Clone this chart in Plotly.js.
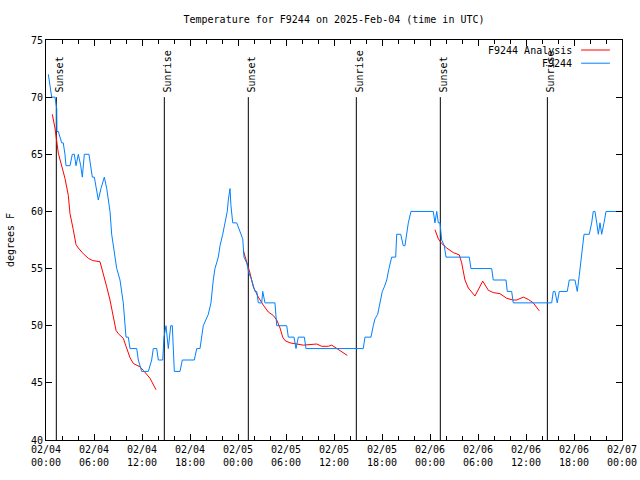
<!DOCTYPE html>
<html>
<head>
<meta charset="utf-8">
<script src="https://cdn.plot.ly/plotly-3.0.1.min.js"></script>
<style>html,body{margin:0;padding:0;background:#fff;}#chart{width:640px;height:480px;}</style>
</head>
<body>
<div id="chart"></div>
<script>
// ---- Data (hours since 2025-02-04 00:00 UTC) ----
const startDate = "2025-02-04 00:00";
const endDate = "2025-02-07 00:00";

const obsName = "F9244";
const obsHours = [0.29,0.5,0.71,1.12,1.34,1.37,1.54,1.96,2.16,2.37,2.5,3.0,3.29,3.54,3.75,4.04,4.34,4.54,4.79,5.37,5.59,5.79,6.04,6.3,6.54,6.87,7.29,7.59,7.79,8.0,8.21,8.41,8.84,9.25,9.66,10.0,10.29,10.5,11.34,11.54,11.96,12.79,13.21,13.41,13.84,14.04,14.59,14.75,15.0,15.29,15.59,15.79,16.0,16.04,16.75,17.04,18.54,18.84,19.25,19.46,19.66,20.29,20.62,20.91,21.12,21.54,21.75,22.09,22.37,22.66,22.79,23.0,23.12,23.34,23.84,24.04,24.34,24.59,24.75,25.09,25.37,25.71,26.12,26.34,26.54,26.96,27.09,27.37,28.62,28.84,30.09,30.29,31.0,31.25,31.54,32.29,32.5,39.66,39.87,40.62,40.91,41.12,41.46,41.75,42.04,42.29,42.59,42.87,43.21,43.71,43.84,44.34,44.66,44.87,45.09,45.29,45.62,48.41,48.62,48.84,49.04,49.25,49.46,49.79,50.0,52.91,53.12,55.71,55.91,57.5,57.66,58.21,58.41,63.21,63.41,63.62,63.91,64.16,65.16,65.41,66.12,66.41,66.66,66.84,67.09,67.25,67.91,68.21,68.41,68.62,68.84,69.04,69.25,69.46,69.75,70.0,71.96];
const obsTemps = [72,71,70,70,69,67,67,66,66,65,64,64,65,65,64,65,64,63,65,65,64,63,63,62,61,62,63,62,61,60,58,57,55,54,52,49,49,48,48,47,46,46,47,48,48,47,47,49,50,48,50,50,47,46,46,47,47,48,48,49,50,51,52,54,55,56,57,58,59,60,61,62,60.5,59,59,58.6,58,57.6,56,55.5,54.6,54,53,53,52,52,53,52,52,50,50,49,49,48,49,49,48,48,49,49,50,50.6,51,52,53,53.4,54,55,56,56,58,58,57,57,58,59,60,60,59,60,59,59,57.5,57,56,56,55,55,54,54,53,53,52,52,53,53,52,53,53,54,54,53,54.4,55.6,57.5,58,58,59,60,60,59,58,59,58,59,60,60];

const anaName = "F9244 Analysis";
const anaHours = [0.79,1.12,1.54,1.96,2.37,2.79,3.0,3.41,3.75,4.04,4.66,5.29,5.84,6.75,7.16,7.59,8.0,8.41,8.75,9.04,9.66,10.0,10.5,10.91,11.75,12.16,13.0,13.75,
  null,
  24.66,25.16,25.5,25.91,26.54,27.16,27.79,28.41,28.84,29.25,29.59,29.87,30.5,32.16,33.21,33.84,34.46,35.29,35.71,36.34,36.96,37.66,
  null,
  48.62,49.04,49.46,50.09,50.91,51.66,51.96,52.37,52.79,53.62,54.59,55.29,55.91,56.75,57.59,58.34,58.84,59.66,60.29,60.91,61.66];
const anaTemps = [68.5,67.3,65.1,64.0,62.9,61.4,59.8,58.4,57.1,56.8,56.3,55.9,55.7,55.6,54.4,53.4,52.25,50.8,49.6,49.3,48.9,48.2,47.2,46.7,46.4,46.1,45.4,44.4,
  null,
  56.6,55.5,54.6,53.4,52.5,51.8,51.2,50.9,50.5,49.8,49.0,48.7,48.5,48.3,48.4,48.4,48.2,48.2,48.3,48.0,47.7,47.4,
  null,
  58.4,57.6,57.2,56.8,56.4,56.2,55.5,54.0,53.3,52.6,53.9,53.1,52.9,52.8,52.4,52.25,52.25,52.5,52.3,52.0,51.3];

const sunHours = [1.29,14.79,25.29,38.79,49.29,62.67];
const sunLabels = ["Sunset","Sunrise","Sunset","Sunrise","Sunset","Sunrise"];
const sunLineBottom = 40;
const sunLineTop = 70;

const yRange = [40,75];
const titleText = "Temperature for F9244 on 2025-Feb-04 (time in UTC)";
const yTitle = "degrees F";

// ---- helpers ----
const BASE = Date.UTC(2025,1,4,0,0,0);
function toDate(h){
  if (h === null) return null;
  const d = new Date(BASE + Math.round(h*3600)*1000);
  return d.toISOString().slice(0,19).replace('T',' ');
}

const sunX = [], sunY = [];
sunHours.forEach(h => { sunX.push(toDate(h), toDate(h), null); sunY.push(sunLineBottom, sunLineTop, null); });

const FONT = "DejaVu Sans Mono";
const RED = "#ff0000";
const BLUE = "#0080ff";

const traces = [
  {x: sunX, y: sunY, type: 'scatter', mode: 'lines', line: {color: '#000', width: 1}, hoverinfo: 'skip', showlegend: false, name: 'sun'},
  {x: anaHours.map(toDate), y: anaTemps, type: 'scatter', mode: 'lines', line: {color: RED, width: 1}, name: anaName, connectgaps: false},
  {x: obsHours.map(toDate), y: obsTemps, type: 'scatter', mode: 'lines', line: {color: BLUE, width: 1}, name: obsName}
];

const annotations = sunHours.map((h,i) => ({
  x: toDate(h), y: sunLineTop, xref: 'x', yref: 'y', text: sunLabels[i], showarrow: false,
  textangle: -90, xanchor: 'center', yanchor: 'bottom', xshift: 3, yshift: 3,
  font: {family: FONT, size: 10, color: '#000'}
}));

// gnuplot-style legend: text right-aligned, line sample to the right
const legendItems = [{name: anaName, color: RED}, {name: obsName, color: BLUE}];
const shapes = [];
legendItems.forEach((it, i) => {
  const yp = 0.975 - i*0.033;
  annotations.push({x: 0.9167, y: yp, xref: 'paper', yref: 'paper', text: it.name, showarrow: false,
    xanchor: 'right', yanchor: 'middle', font: {family: FONT, size: 10, color: '#000'}});
  shapes.push({type: 'line', xref: 'paper', yref: 'paper', x0: 0.929, x1: 0.979, y0: yp, y1: yp,
    line: {color: it.color, width: 1}});
});

const layout = {
  width: 640, height: 480,
  margin: {l: 46, r: 18, t: 40, b: 40, pad: 0},
  paper_bgcolor: '#fff', plot_bgcolor: '#fff',
  showlegend: false,
  font: {family: FONT, size: 10, color: '#000'},
  title: {text: titleText, x: 0.5, xref: 'paper', xanchor: 'center', y: 1 - 19/480, yref: 'container', yanchor: 'middle',
          font: {family: FONT, size: 10, color: '#000'}},
  xaxis: {
    type: 'date', range: [startDate, endDate],
    tick0: startDate, dtick: 6*3600*1000, tickformat: '%m/%d<br>%H:%M',
    ticks: 'inside', ticklen: 6, tickcolor: '#000', tickwidth: 1,
    showline: true, linecolor: '#000', linewidth: 1, mirror: 'ticks',
    showgrid: false, zeroline: false,
    minor: {dtick: 2*3600*1000, ticks: 'inside', ticklen: 4, tickcolor: '#000', showgrid: false},
    tickfont: {family: FONT, size: 10, color: '#000'}
  },
  yaxis: {
    range: yRange, dtick: 5, tick0: 40,
    ticks: 'inside', ticklen: 6, tickcolor: '#000', tickwidth: 1,
    showline: true, linecolor: '#000', linewidth: 1, mirror: 'ticks',
    showgrid: false, zeroline: false,
    tickfont: {family: FONT, size: 10, color: '#000'},
    title: {text: yTitle, font: {family: FONT, size: 10, color: '#000'}, standoff: 14}
  },
  annotations: annotations,
  shapes: shapes
};

Plotly.newPlot('chart', traces, layout, {displayModeBar: false, staticPlot: true});
</script>
</body>
</html>
